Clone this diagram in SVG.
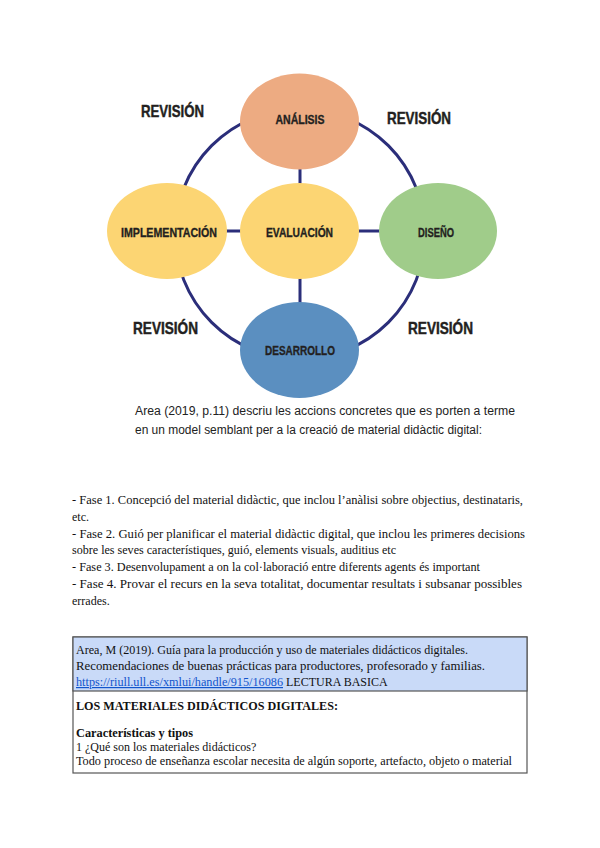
<svg xmlns="http://www.w3.org/2000/svg" width="600" height="848" viewBox="0 0 600 848">
<style>
.node-label{font-family:"Liberation Sans",Arial,sans-serif;font-weight:bold;font-size:13px;fill:#231f20;stroke:#231f20;stroke-width:0.35;text-anchor:middle}
.rev{font-family:"Liberation Sans",Arial,sans-serif;font-weight:bold;font-size:16.5px;fill:#231f20;stroke:#231f20;stroke-width:0.45}
.conn{stroke:#2b2e7a;stroke-width:3;fill:none}
.cap{font-family:"Liberation Sans",Arial,sans-serif;font-size:12.5px;fill:#222}
.body{font-family:"Liberation Serif","Times New Roman",serif;font-size:12px;fill:#111}
.bold{font-weight:bold}
.link{fill:#1155cc;text-decoration:underline}
</style>
<rect width="600" height="848" fill="#ffffff"/>
<g id="connectors">
<circle class="conn" cx="300" cy="234" r="125"/>
<line class="conn" x1="300" y1="121" x2="300" y2="350"/>
<line class="conn" x1="167" y1="231" x2="438" y2="231"/>
</g>
<g id="node-analisis">
<ellipse cx="299.5" cy="121.5" rx="59.5" ry="48" fill="#edab82"/>
<text class="node-label" x="300" y="124" textLength="49" lengthAdjust="spacingAndGlyphs">ANÁLISIS</text>
</g>
<g id="node-implementacion">
<ellipse cx="167" cy="231" rx="60" ry="48" fill="#fcd573"/>
<text class="node-label" x="169" y="237" textLength="96" lengthAdjust="spacingAndGlyphs">IMPLEMENTACIÓN</text>
</g>
<g id="node-evaluacion">
<ellipse cx="299.5" cy="231" rx="59.5" ry="48" fill="#fcd573"/>
<text class="node-label" x="299.5" y="237" textLength="67" lengthAdjust="spacingAndGlyphs">EVALUACIÓN</text>
</g>
<g id="node-diseno">
<ellipse cx="438" cy="231" rx="59" ry="48" fill="#a0cc8a"/>
<text class="node-label" x="436" y="237" textLength="36" lengthAdjust="spacingAndGlyphs">DISEÑO</text>
</g>
<g id="node-desarrollo">
<ellipse cx="299.5" cy="350" rx="59.5" ry="48" fill="#5b8fc0"/>
<text class="node-label" x="300" y="355" textLength="70" lengthAdjust="spacingAndGlyphs">DESARROLLO</text>
</g>
<g id="labels">
<text class="rev" x="141" y="117" textLength="63" lengthAdjust="spacingAndGlyphs">REVISIÓN</text>
<text class="rev" x="387" y="124" textLength="64" lengthAdjust="spacingAndGlyphs">REVISIÓN</text>
<text class="rev" x="133" y="334" textLength="65" lengthAdjust="spacingAndGlyphs">REVISIÓN</text>
<text class="rev" x="408" y="334" textLength="65" lengthAdjust="spacingAndGlyphs">REVISIÓN</text>
<text class="cap" x="135" y="415" textLength="380" lengthAdjust="spacingAndGlyphs">Area (2019, p.11) descriu les accions concretes que es porten a terme</text>
<text class="cap" x="135" y="434" textLength="347" lengthAdjust="spacingAndGlyphs">en un model semblant per a la creació de material didàctic digital:</text>
</g>
<g id="fases">
<text class="body" x="72" y="504" textLength="451" lengthAdjust="spacingAndGlyphs">- Fase 1. Concepció del material didàctic, que inclou l’anàlisi sobre objectius, destinataris,</text>
<text class="body" x="72" y="521">etc.</text>
<text class="body" x="72" y="538" textLength="453" lengthAdjust="spacingAndGlyphs">- Fase 2. Guió per planificar el material didàctic digital, que inclou les primeres decisions</text>
<text class="body" x="72" y="554" textLength="324" lengthAdjust="spacingAndGlyphs">sobre les seves característiques, guió, elements visuals, auditius etc</text>
<text class="body" x="72" y="571" textLength="408" lengthAdjust="spacingAndGlyphs">- Fase 3. Desenvolupament a on la col·laboració entre diferents agents és important</text>
<text class="body" x="72" y="588" textLength="450" lengthAdjust="spacingAndGlyphs">- Fase 4. Provar el recurs en la seva totalitat, documentar resultats i subsanar possibles</text>
<text class="body" x="72" y="605">errades.</text>
</g>
<g id="reference-box">
<rect x="73" y="637" width="454" height="136" fill="#ffffff" stroke="#555" stroke-width="1.2"/>
<rect x="73" y="637" width="454" height="54" fill="#c9daf8" stroke="#555" stroke-width="1.2"/>
<text class="body" x="76" y="654" textLength="392" lengthAdjust="spacingAndGlyphs">Area, M (2019). Guía para la producción y uso de materiales didácticos digitales.</text>
<text class="body" x="76" y="670" textLength="409" lengthAdjust="spacingAndGlyphs">Recomendaciones de buenas prácticas para productores, profesorado y familias.</text>
<text class="body" x="76" y="686"><tspan class="link" textLength="207" lengthAdjust="spacingAndGlyphs">https://riull.ull.es/xmlui/handle/915/16086</tspan> LECTURA BASICA</text>
<text class="body bold" x="76" y="710" textLength="262" lengthAdjust="spacingAndGlyphs">LOS MATERIALES DIDÁCTICOS DIGITALES:</text>
<text class="body bold" x="76" y="737" textLength="117" lengthAdjust="spacingAndGlyphs">Características y tipos</text>
<text class="body" x="76" y="751">1 ¿Qué son los materiales didácticos?</text>
<text class="body" x="76" y="765" textLength="436" lengthAdjust="spacingAndGlyphs">Todo proceso de enseñanza escolar necesita de algún soporte, artefacto, objeto o material</text>
</g>
</svg>
